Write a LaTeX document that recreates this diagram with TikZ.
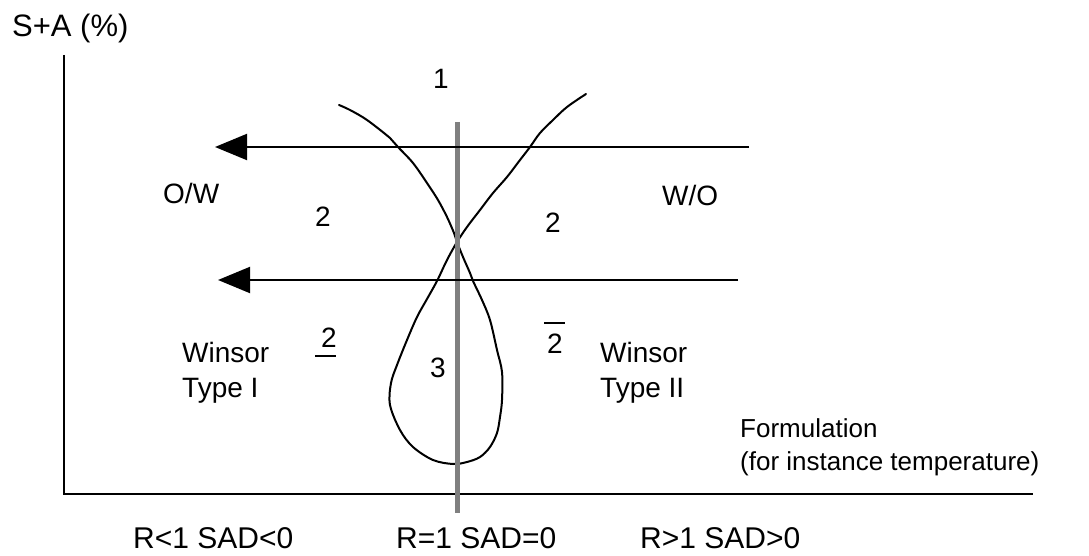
\documentclass[tikz,border=0pt]{standalone}
\usepackage{fontspec}
\setmainfont{Liberation Sans}
\usetikzlibrary{arrows.meta}
\definecolor{midgray}{RGB}{128,128,128}
\begin{document}
\begin{tikzpicture}[x=1pt,y=-1pt,
  lab/.style={inner sep=0pt, font=\fontsize{28}{35}\selectfont},
  biglab/.style={inner sep=0pt, font=\fontsize{31}{36}\selectfont},
  botlab/.style={inner sep=0pt, font=\fontsize{30}{36}\selectfont},
  formlab/.style={inner sep=0pt, font=\fontsize{26}{33}\selectfont},
  axisline/.style={line width=2.6pt},
  flow/.style={line width=2pt, -{Triangle[length=32pt,width=26pt]}},
  curveline/.style={line width=2pt, line join=round, line cap=round},
  midline/.style={line width=5pt, draw=midgray},
  bar/.style={line width=2pt}]
\useasboundingbox (0,0) rectangle (1089,556);

% axes
\coordinate (ytop) at (64,55);
\coordinate (origin) at (64,494);
\coordinate (xend) at (1033,494);
\draw[axisline] (ytop) -- (origin) -- (xend);

% winsor curves (X shape with loop)
\draw[curveline] plot[smooth, tension=0.55] coordinates {
 (339,105) (350,110) (367,120) (390,138) (398,147) (413,163) (427,183)
 (438,200) (447,217) (454,233) (457,242) (463,257) (470,273) (473,281)
 (482,300) (490,320) (497,350) (502,372) (502,400) (500,417) (497,433)
 (490,447) (480,457) (467,462) (453,464) (433,460) (413,447) (400,430)
 (390,405) (391,383) (397,365) (407,340) (417,317) (427,299) (437,281)
 (447,260) (457,242) (467,227) (480,210) (493,193) (507,177) (520,160)
 (530,147) (540,133) (553,120) (567,107) (586,94)};

% gray vertical line R=1
\coordinate (gtop) at (457,122);
\coordinate (gbot) at (457,513);
\draw[midline] (gtop) -- (gbot);

% arrows
\coordinate (a1s) at (749,147);
\coordinate (a1e) at (215,147);
\draw[flow] (a1s) -- (a1e);
\coordinate (a2s) at (738,280);
\coordinate (a2e) at (218,280);
\draw[flow] (a2s) -- (a2e);

% labels
\node[biglab, anchor=base west] (sa) at (12,37) {S+A (\%)};
\node[lab, anchor=base] (one) at (441,89) {1};
\node[lab, anchor=base west] (ow) at (163,204) {O/W};
\node[lab, anchor=base west] (wo) at (662,206) {W/O};
\node[lab, anchor=base] (twoL) at (323,226) {2};
\node[lab, anchor=base] (twoR) at (553,233) {2};
\node[lab, anchor=base] (twoU) at (329,347) {2};
\coordinate (ul1) at (315,356);
\coordinate (ul2) at (336,356);
\draw[bar] (ul1) -- (ul2);
\node[lab, anchor=base] (twoO) at (555,353) {2};
\coordinate (ol1) at (544,323);
\coordinate (ol2) at (565,323);
\draw[bar] (ol1) -- (ol2);
\node[lab, anchor=base] (three) at (438,377) {3};
\node[lab, anchor=north west, align=left] (win1) at (182,342) {Winsor\\Type I};
\node[lab, anchor=north west, align=left] (win2) at (600,342) {Winsor\\Type II};
\node[formlab, anchor=north west, align=left] (form) at (740,418) {Formulation\\(for instance temperature)};

\node[botlab, anchor=base west] (b1) at (133,548) {R<1 SAD<0};
\node[botlab, anchor=base west] (b2) at (396,548) {R=1 SAD=0};
\node[botlab, anchor=base west] (b3) at (640,548) {R>1 SAD>0};
\end{tikzpicture}
\end{document}
